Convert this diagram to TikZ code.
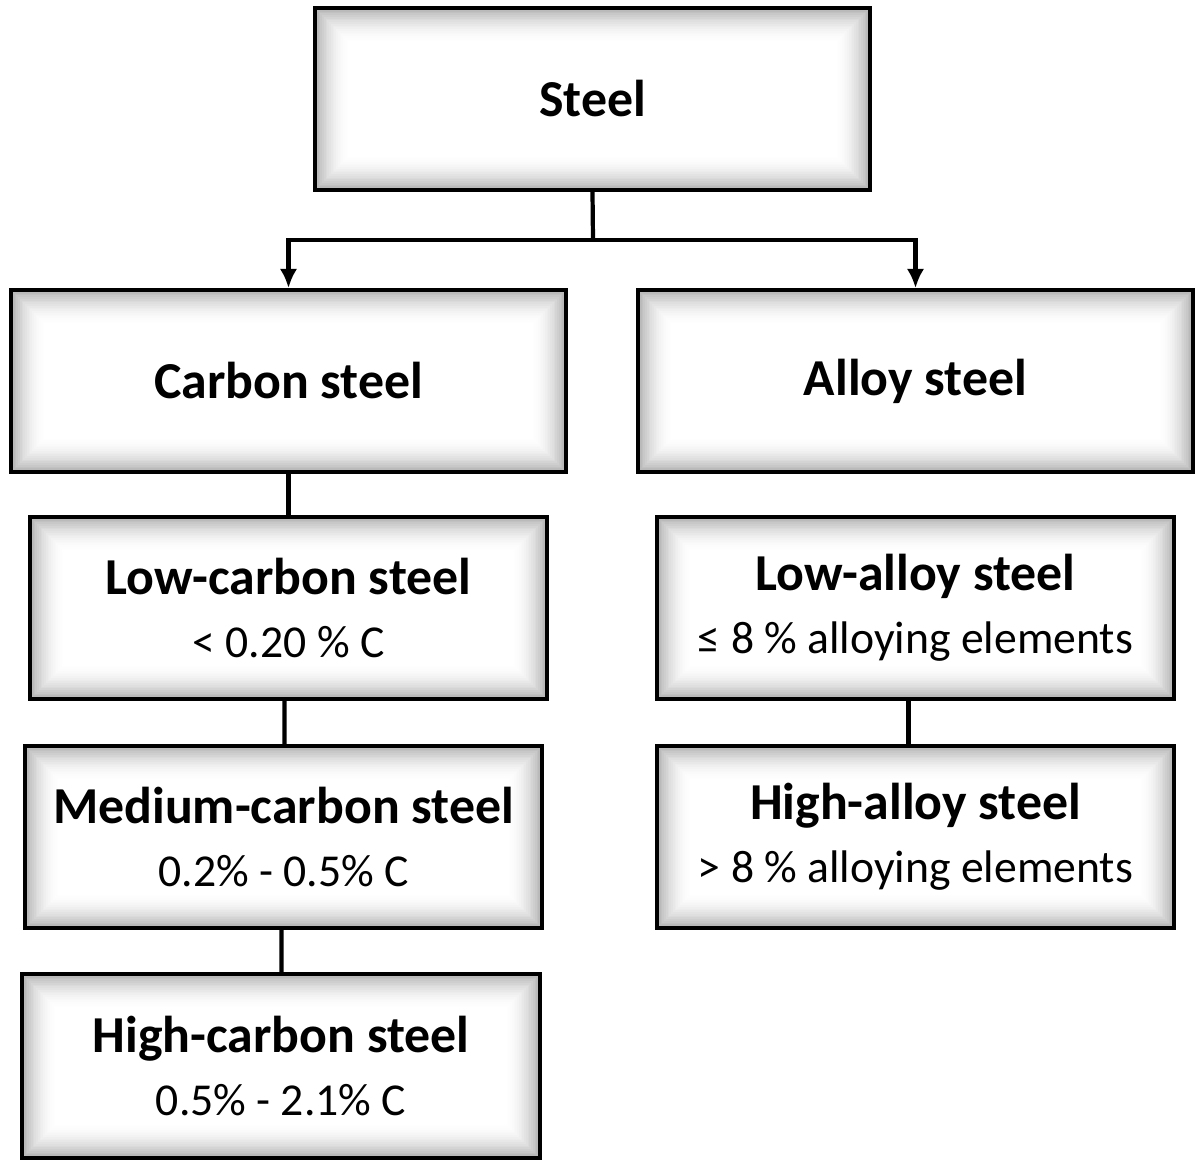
\documentclass[tikz,border=0pt]{standalone}
\usepackage{fontspec}
\setmainfont{Carlito}
\usetikzlibrary{arrows.meta}
\begin{document}
\begin{tikzpicture}[x=0.02cm,y=-0.02cm,
  box/.style={draw=black,line width=2.2pt,align=center,inner sep=0pt,
    minimum height=3.64cm,
    path picture={
      \foreach \i in {0,...,19}{
        \pgfmathsetmacro\g{30*(1-\i/20)^2}
        \fill[black!\g] ([shift={(\i*0.035cm,\i*0.035cm)}]path picture bounding box.south west)
          rectangle ([shift={(-\i*0.035cm,-\i*0.035cm)}]path picture bounding box.north east);
      }
      \fill[white] ([shift={(0.7cm,0.7cm)}]path picture bounding box.south west)
          rectangle ([shift={(-0.7cm,-0.7cm)}]path picture bounding box.north east);
    }},
  ttl/.style={font=\fontsize{29.5}{36}\selectfont\bfseries},
  conn/.style={line width=2.4pt},
  arr/.style={conn,-{Latex[length=11pt,width=10pt]}}]
\useasboundingbox (0,0) rectangle (1200,1166);
\newcommand\sub[1]{\\{\fontsize{26}{35}\selectfont\mdseries #1}}
\node[box,ttl,minimum width=11.1cm] (steel) at (592.5,99) {Steel};
\node[box,ttl,minimum width=11.1cm] (carbon) at (288.5,381) {Carbon steel};
\node[box,ttl,minimum width=11.1cm] (alloy) at (915.5,381) {Alloy steel};
\node[box,ttl,minimum width=10.34cm] (lowc) at (288.5,608) {Low-carbon steel\sub{< 0.20 \% C}};
\node[box,ttl,minimum width=10.34cm] (medc) at (283.5,837) {Medium-carbon steel\sub{0.2\% - 0.5\% C}};
\node[box,ttl,minimum width=10.36cm,minimum height=3.68cm] (highc) at (281,1066) {High-carbon steel\sub{0.5\% - 2.1\% C}};
\node[box,ttl,minimum width=10.34cm] (lowa) at (915.5,608) {Low-alloy steel\sub{≤ 8 \% alloying elements}};
\node[box,ttl,minimum width=10.34cm] (higha) at (915.5,837) {High-alloy steel\sub{> 8 \% alloying elements}};
\coordinate (j) at (593,240);
\draw[conn] (steel.south) -- (j);
\draw[arr] (j) -| (carbon.north);
\draw[arr] (j) -| (alloy.north);
\draw[conn] (carbon.south) -- (lowc.north);
\draw[conn] ([xshift=-0.08cm]lowc.south) -- ([xshift=0.02cm]medc.north);
\draw[conn] ([xshift=-0.04cm]medc.south) -- ([xshift=0.01cm]highc.north);
\draw[conn] ([xshift=-0.14cm]lowa.south) -- ([xshift=-0.14cm]higha.north);
\end{tikzpicture}
\end{document}
